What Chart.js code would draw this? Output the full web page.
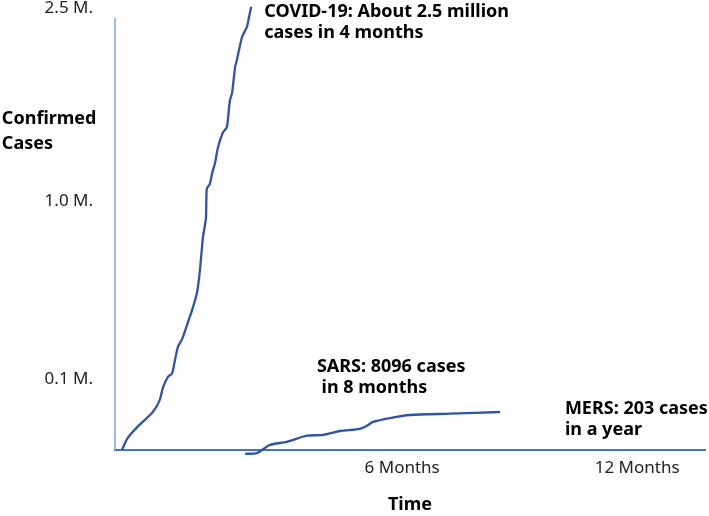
<!DOCTYPE html>
<html><head><meta charset="utf-8">
<script src="https://cdn.jsdelivr.net/npm/chart.js@4.4.0/dist/chart.umd.min.js"></script>
<style>html,body{margin:0;padding:0;background:#fff;}</style>
</head><body>
<canvas id="c" width="709" height="516"></canvas>
<script>
// Values (x: months on the drawn time axis, y: drawn case-axis units, 100 = top of axis)
const covidX = [0.16,0.28,0.51,0.87,1.03,1.10,1.22,1.31,1.38,1.45,1.54,1.66,1.77,1.89,1.95,2.02,2.09,2.11,2.18,2.23,2.30,2.37,2.48,2.57,2.64,2.69,2.76,2.80,2.92,3.03,3.08,3.13];
const covidY = [0,2.6,5.3,8.8,11.6,14.4,17.0,17.7,20.9,24.0,25.6,29.1,32.3,36.7,41.4,49.1,53.7,60.5,61.6,64.0,66.5,70.2,73.5,74.7,80.9,82.6,88.6,90.2,95.6,97.9,100.2,102.6];
const sarsX = [2.99,3.26,3.38,3.56,3.95,4.41,4.78,5.17,5.63,5.79,5.93,6.32,6.78,7.70,8.85];
const sarsY = [-0.9,-0.7,0,1.2,1.9,3.3,3.5,4.4,4.9,5.6,6.5,7.4,8.1,8.4,8.8];
const yTickValues = [16.3, 57.7, 102.3];
const yTickLabels = ['0.1 M.', '1.0 M.', '2.5 M.'];
const xTickValues = [6.6, 12];
const xTickLabels = ['6 Months', '12 Months'];
const noteTexts = [
  ['COVID-19: About 2.5 million', 'cases in 4 months'],
  ['SARS: 8096 cases', ' in 8 months'],
  ['MERS: 203 cases', 'in a year'],
  ['Confirmed', 'Cases']
];
const noteAnchors = [[3.43, 101.4, 96.5], [4.64, 19.3, 14.4], [10.34, 9.5, 4.65], [-2.6, 76.7, 70.9]];

const FONT = "'Noto Sans', 'DejaVu Sans', sans-serif";
const toPts = (xs, ys) => xs.map((x, i) => ({x, y: ys[i]}));

const notesPlugin = {
  id: 'notes',
  beforeDatasetsDraw(chart) {
    const {ctx, scales: {x, y}} = chart;
    ctx.save();
    ctx.strokeStyle = '#7fa3e2';
    ctx.lineWidth = 1.5;
    ctx.beginPath();
    ctx.moveTo(x.getPixelForValue(0), y.getPixelForValue(0));
    ctx.lineTo(x.getPixelForValue(0), y.getPixelForValue(100));
    ctx.stroke();
    ctx.restore();
  },
  afterDatasetsDraw(chart) {
    const {ctx, scales: {x, y}} = chart;
    ctx.save();
    ctx.fillStyle = '#000';
    ctx.font = "bold 18px " + FONT;
    ctx.textAlign = 'left';
    ctx.textBaseline = 'middle';
    noteTexts.forEach((lines, i) => {
      const a = noteAnchors[i];
      lines.forEach((t, j) => ctx.fillText(t, x.getPixelForValue(a[0]), y.getPixelForValue(a[1 + j])));
    });
    ctx.restore();
  }
};

new Chart(document.getElementById('c'), {
  type: 'scatter',
  data: {
    datasets: [
      {label: 'COVID-19', data: toPts(covidX, covidY)},
      {label: 'SARS', data: toPts(sarsX, sarsY)}
    ].map(d => Object.assign(d, {showLine: true, pointRadius: 0, borderColor: '#2f54a1', borderWidth: 2.3, tension: 0.25, clip: false}))
  },
  options: {
    responsive: false,
    animation: false,
    layout: {padding: {top: 5, right: 4, bottom: 0, left: 0}},
    plugins: {legend: {display: false}, tooltip: {enabled: false}},
    scales: {
      x: {
        type: 'linear', min: 0, max: 13.56,
        grid: {display: false, drawTicks: false},
        border: {display: true, color: '#4472c4', width: 2},
        afterBuildTicks: s => { s.ticks = xTickValues.map(v => ({value: v})); },
        ticks: {
          padding: 8, color: '#222', font: {family: FONT, size: 17},
          callback: v => xTickLabels[xTickValues.indexOf(v)]
        },
        title: {display: true, text: 'Time', color: '#000', font: {family: FONT, size: 18, weight: 'bold'}, padding: {top: 8, bottom: 0}}
      },
      y: {
        type: 'linear', min: 0, max: 103,
        grid: {display: false, drawTicks: false},
        border: {display: false},
        afterFit: s => { s.width = 115; s.paddingTop = 0; s.paddingBottom = 0; },
        afterBuildTicks: s => { s.ticks = yTickValues.map(v => ({value: v})); },
        ticks: {
          padding: 22, color: '#222', font: {family: FONT, size: 17},
          callback: v => yTickLabels[yTickValues.indexOf(v)]
        }
      }
    }
  },
  plugins: [notesPlugin]
});
</script>
</body></html>
